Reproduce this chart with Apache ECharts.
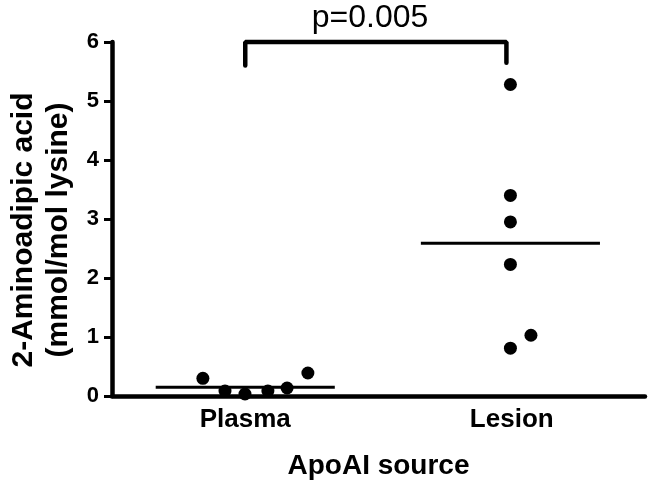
<!DOCTYPE html>
<html><head><meta charset="utf-8">
<script src="https://cdn.jsdelivr.net/npm/echarts@6/dist/echarts.min.js"></script>
<style>html,body{margin:0;padding:0;background:#fff}#c{width:652px;height:488px}</style>
</head><body><div id="c"></div>
<script>
const categories = ['Plasma', 'Lesion'];
const yTicks = [0, 1, 2, 3, 4, 5, 6];
// jittered x positions (category centre = 0.5 / 1.5 on hidden value axis)
const plasmaX = [0.341, 0.424, 0.499, 0.585, 0.657, 0.735];
const plasmaY = [0.30, 0.085, 0.034, 0.085, 0.136, 0.39];
const lesionX = [1.495, 1.495, 1.495, 1.495, 1.572, 1.495];
const lesionY = [5.28, 3.40, 2.95, 2.23, 1.03, 0.81];
const plasmaMean = 0.15;
const lesionMean = 2.59;
const meanHalfWidth = 0.336;
const bracketY = [5.6, 6, 6, 5.65];
const pText = 'p=0.005';
const yTitle = '2-Aminoadipic acid\n(mmol/mol lysine)';
const xTitle = 'ApoAI source';

const FONT = '"Liberation Sans", Arial, sans-serif';
const chart = echarts.init(document.getElementById('c'), null, {renderer: 'canvas'});
const pts = (xs, ys) => xs.map((x, i) => [x, ys[i]]);
const meanLine = (c, m) => [[c - meanHalfWidth, m], [c + meanHalfWidth, m]];

chart.setOption({
  animation: false,
  backgroundColor: '#fff',
  grid: {left: 112, right: 7, top: 42, bottom: 92, containLabel: false, outerBoundsMode: 'none'},
  xAxis: [{
    type: 'category', data: categories, boundaryGap: true,
    axisLine: {lineStyle: {color: '#000', width: 4.5}},
    axisTick: {alignWithLabel: true, length: 8, lineStyle: {color: '#000', width: 3}},
    axisLabel: {color: '#000', fontFamily: FONT, fontWeight: 'bold', fontSize: 26, margin: 11},
    name: xTitle, nameLocation: 'middle', nameGap: 56,
    nameTextStyle: {color: '#000', fontFamily: FONT, fontWeight: 'bold', fontSize: 28},
    splitLine: {show: false}
  }, {
    type: 'value', min: 0, max: 2, show: false
  }],
  yAxis: {
    type: 'value', min: 0, max: 6, interval: 1,
    axisLine: {show: true, lineStyle: {color: '#000', width: 4.5}},
    axisTick: {show: true, length: 8, lineStyle: {color: '#000', width: 3}},
    axisLabel: {color: '#000', fontFamily: FONT, fontWeight: 'bold', fontSize: 22, margin: 13,
      formatter: v => yTicks.includes(v) ? String(v) : ''},
    splitLine: {show: false}
  },
  series: [
    {type: 'scatter', xAxisIndex: 1, data: pts(plasmaX, plasmaY), symbol: 'circle', symbolSize: 13,
      itemStyle: {color: '#000', opacity: 1}, z: 5},
    {type: 'scatter', xAxisIndex: 1, data: pts(lesionX, lesionY), symbol: 'circle', symbolSize: 13,
      itemStyle: {color: '#000', opacity: 1}, z: 5},
    {type: 'line', xAxisIndex: 1, data: meanLine(0.5, plasmaMean), symbol: 'none',
      lineStyle: {color: '#000', width: 3}},
    {type: 'line', xAxisIndex: 1, data: meanLine(1.495, lesionMean), symbol: 'none',
      lineStyle: {color: '#000', width: 3}},
    {type: 'line', xAxisIndex: 1, clip: false, symbol: 'none',
      data: [[0.5, bracketY[0]], [0.5, bracketY[1]], [1.48, bracketY[2]], [1.48, bracketY[3]]],
      lineStyle: {color: '#000', width: 4.5, cap: 'round'}}
  ],
  graphic: [{
    type: 'text', x: 370, y: 18,
    style: {text: pText, fontFamily: FONT, fontSize: 32, fill: '#000', align: 'center', verticalAlign: 'middle'}
  }, {
    type: 'text', x: 41, y: 230, rotation: Math.PI / 2,
    style: {text: yTitle, fontFamily: FONT, fontWeight: 'bold', fontSize: 30, lineHeight: 35, fill: '#000',
      align: 'center', verticalAlign: 'middle'}
  }]
});
</script></body></html>
